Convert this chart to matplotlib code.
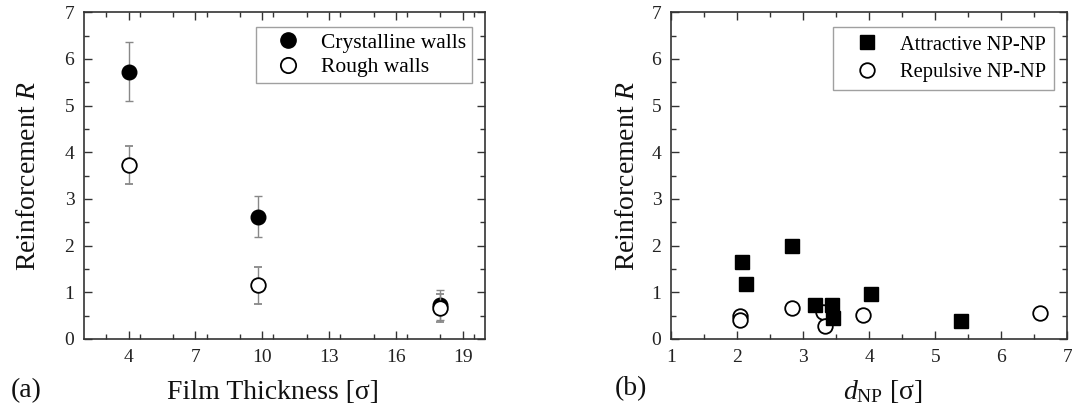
import matplotlib
matplotlib.use("Agg")
import matplotlib.pyplot as plt
from matplotlib.ticker import MultipleLocator
from matplotlib.lines import Line2D

plt.rcParams['font.family'] = ['Liberation Serif', 'DejaVu Serif']
plt.rcParams['mathtext.fontset'] = 'custom'
plt.rcParams['mathtext.rm'] = 'Liberation Serif'
plt.rcParams['mathtext.it'] = 'Liberation Serif:italic'

# Panel (a): reinforcement vs film thickness
thick_cryst = [4.0, 9.8, 18.0]
r_cryst = [5.73, 2.62, 0.72]
err_cryst = [0.63, 0.44, 0.32]

thick_rough = [4.0, 9.8, 18.0]
r_rough = [3.73, 1.15, 0.67]
err_rough = [0.41, 0.39, 0.30]

# Panel (b): reinforcement vs NP diameter
d_attr = [2.08, 2.14, 2.83, 3.18, 3.44, 3.45, 4.02, 5.39]
r_attr = [1.66, 1.17, 1.99, 0.72, 0.73, 0.44, 0.96, 0.39]

d_rep = [2.04, 2.05, 2.83, 3.30, 3.33, 3.90, 6.58]
r_rep = [0.50, 0.41, 0.66, 0.58, 0.28, 0.51, 0.56]

xticks_a = [4, 7, 10, 13, 16, 19]
xticks_b = [1, 2, 3, 4, 5, 6, 7]
yticks = [0, 1, 2, 3, 4, 5, 6, 7]

fig = plt.figure(figsize=(10.72, 4.12), dpi=100)
ax1 = fig.add_axes([0.0784, 0.1772, 0.374, 0.793])
ax2 = fig.add_axes([0.626, 0.1772, 0.3698, 0.793])

spine_col = '#333333'
for ax in (ax1, ax2):
    for s in ax.spines.values():
        s.set_color(spine_col)
        s.set_linewidth(1.2)
    ax.tick_params(which='both', direction='in', top=True, right=True,
                   colors=spine_col, labelcolor='#222222', labelsize=14)
    ax.tick_params(which='major', length=6, width=1.0, pad=7)
    ax.tick_params(which='minor', length=3.5, width=1.0)
    ax.set_ylim(0, 7)
    ax.set_yticks(yticks)
    ax.yaxis.set_minor_locator(MultipleLocator(0.5))

ax1.set_ylabel('Reinforcement $R$', fontsize=20, color='#111111', labelpad=17)
ax2.set_ylabel('Reinforcement $R$', fontsize=20, color='#111111', labelpad=8)

leg_kw = dict(loc='upper right', frameon=True, fancybox=False,
              edgecolor='#888888', handletextpad=0.33, borderaxespad=0.0)

# (a)
ax1.errorbar(thick_cryst, r_cryst, yerr=err_cryst, fmt='o', ms=10.5,
             mfc='black', mec='black', ecolor='#888888', elinewidth=1.0,
             capsize=3, capthick=1.0, zorder=3)
ax1.errorbar(thick_rough, r_rough, yerr=err_rough, fmt='o', ms=10.5,
             mfc='white', mec='black', mew=1.3, ecolor='#888888', elinewidth=1.0,
             capsize=3, capthick=1.0, zorder=4)
ax1.set_xlim(2, 20)
ax1.set_xticks(xticks_a)
ax1.xaxis.set_minor_locator(MultipleLocator(1.5))
ax1.set_xlabel('Film Thickness [σ]', fontsize=20, color='#111111', labelpad=10)
ax1.xaxis.label.set_x(0.471)
h_cryst = Line2D([], [], ls='none', marker='o', ms=11, mfc='black', mec='black')
h_rough = Line2D([], [], ls='none', marker='o', ms=11, mfc='white', mec='black', mew=1.3)
leg1 = ax1.legend([h_cryst, h_rough], ['Crystalline walls', 'Rough walls'],
                  bbox_to_anchor=(0.968, 0.955), fontsize=15.5,
                  handlelength=2.45, borderpad=0.26, labelspacing=0.22, **leg_kw)
leg1.get_frame().set_linewidth(1.0)

# (b)
ax2.plot(d_rep, r_rep, 'o', ms=10.5, mfc='white', mec='black', mew=1.3,
         zorder=3)
ax2.plot(d_attr, r_attr, 's', ms=9.5, mfc='black', mec='black', zorder=4)
h_attr = Line2D([], [], ls='none', marker='s', ms=9.5, mfc='black', mec='black')
h_rep = Line2D([], [], ls='none', marker='o', ms=10.5, mfc='white', mec='black', mew=1.3)
ax2.set_xlim(1, 7)
ax2.set_xticks(xticks_b)
ax2.xaxis.set_minor_locator(MultipleLocator(0.5))
ax2.set_xlabel(r'$d_{\mathrm{NP}}$ [σ]', fontsize=20, color='#111111', labelpad=9)
ax2.xaxis.label.set_x(0.535)
leg2 = ax2.legend([h_attr, h_rep], ['Attractive NP-NP', 'Repulsive NP-NP'],
                  bbox_to_anchor=(0.966, 0.955), fontsize=14.8,
                  handlelength=2.5, borderpad=0.4, labelspacing=0.4, **leg_kw)
leg2.get_frame().set_linewidth(1.0)

fig.text(0.01, 0.035, '(a)', fontsize=20, color='#111111')
fig.text(0.573, 0.04, '(b)', fontsize=20, color='#111111')

fig.savefig('out.png', dpi=100)
